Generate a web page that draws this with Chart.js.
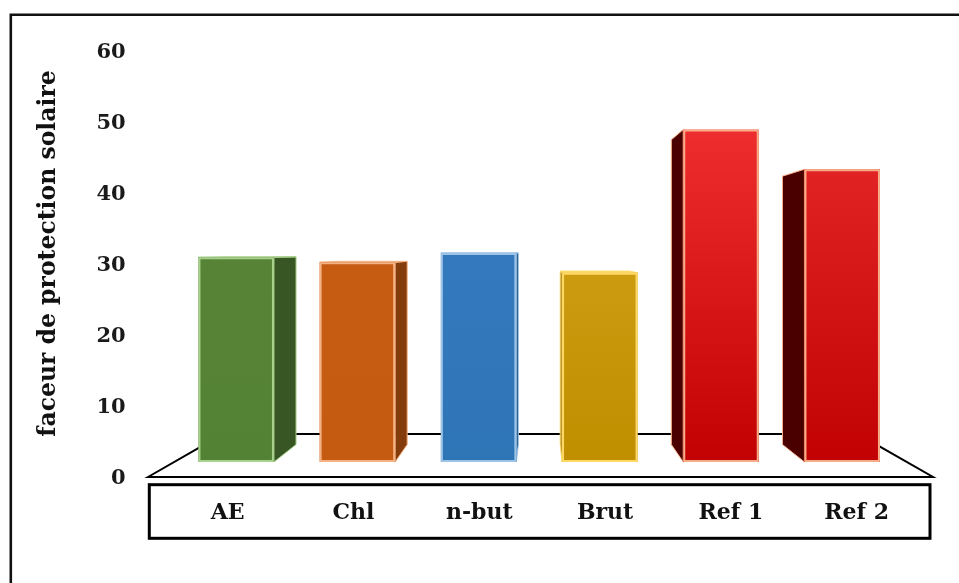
<!DOCTYPE html>
<html>
<head>
<meta charset="utf-8">
<title>Facteur de protection solaire</title>
<script src="https://cdn.jsdelivr.net/npm/chart.js@4.4.1/dist/chart.umd.min.js"></script>
<style>
  html, body { margin: 0; padding: 0; background: #ffffff; }
  canvas { display: block; }
</style>
</head>
<body>
<canvas id="spf" width="959" height="583"></canvas>
<script>
// ---- data ----
const categories = ['AE', 'Chl', 'n-but', 'Brut', 'Ref 1', 'Ref 2'];
const spfValues  = [31.2, 30.5, 31.8, 29.0, 49.2, 43.6];
const yTicks     = [0, 10, 20, 30, 40, 50, 60];
const axisTitle  = 'faceur de protection solaire';

// ---- bar styling (front face gradient, side face, light outline) ----
const faceTop    = ['#578337', '#c65b12', '#3479bd', '#cc9b10', '#ee2e2e', '#e12323'];
const faceBottom = ['#548235', '#c55a11', '#2e75b6', '#bf8f00', '#c20202', '#c20202'];
const sideFill   = ['#375623', '#843c0c', '#1f4e79', '#7f6000', '#4b0000', '#4b0000'];
const edgeLine   = ['#a9d18e', '#f4b183', '#9dc3e6', '#ffd966', '#f7ae88', '#f7ae88'];

// ---- perspective of the 3D stage ----
const VP = { x: 540, y: 252 };     // vanishing point
const FLOOR_DEPTH = 0.191;         // depth of the floor, as a fraction toward VP
const BAR_INSET = 0.0667;          // bars stand slightly behind the floor's front edge
const BAR_DEPTH = 0.083;           // depth of each column

function toward(p, t) {
  return { x: p.x + (VP.x - p.x) * t, y: p.y + (VP.y - p.y) * t };
}

function poly(ctx, pts, fill, stroke, lw) {
  ctx.beginPath();
  ctx.moveTo(pts[0].x, pts[0].y);
  for (let k = 1; k < pts.length; k++) ctx.lineTo(pts[k].x, pts[k].y);
  ctx.closePath();
  if (fill) { ctx.fillStyle = fill; ctx.fill(); }
  if (stroke) { ctx.strokeStyle = stroke; ctx.lineWidth = lw; ctx.stroke(); }
}

const stage3d = {
  id: 'stage3d',
  beforeDraw(chart) {
    const { ctx, chartArea: a, scales: { y } } = chart;
    const frontY = y.getPixelForValue(0) - 1.5;
    ctx.save();
    // page frame
    ctx.strokeStyle = '#111111';
    ctx.lineWidth = 2.6;
    ctx.beginPath();
    ctx.moveTo(10.8, chart.height + 5);
    ctx.lineTo(10.8, 14.7);
    ctx.lineTo(chart.width + 5, 14.7);
    ctx.stroke();

    // floor
    const fl = { x: a.left - 27.6, y: frontY };
    const fr = { x: a.right + 30.2, y: frontY };
    const bl = toward(fl, FLOOR_DEPTH);
    const br = toward(fr, FLOOR_DEPTH);
    ctx.lineJoin = 'miter';
    ctx.miterLimit = 4;
    poly(ctx, [fl, bl, br, fr], null, '#000000', 2);

    // category table box
    ctx.lineWidth = 3;
    ctx.strokeStyle = '#000000';
    const bx0 = a.left - 26.3, bx1 = a.right + 27.2;
    ctx.strokeRect(bx0, a.bottom + 6.2, bx1 - bx0, 53.6);
    ctx.restore();
  },
  afterDatasetsDraw(chart) {
    const { ctx, scales: { y } } = chart;
    const frontY = y.getPixelForValue(0) - 1.5;
    const meta = chart.getDatasetMeta(0);
    meta.data.forEach((bar, i) => {
      const L = bar.x - bar.width / 2;
      const R = bar.x + bar.width / 2;
      const T = bar.y;
      const B = toward({ x: bar.x, y: frontY }, BAR_INSET).y;
      const c = [{ x: L, y: T }, { x: R, y: T }, { x: R, y: B }, { x: L, y: B }];
      const d = c.map(p => toward(p, BAR_DEPTH));
      ctx.save();
      ctx.lineJoin = 'round';
      // side face
      if (R < VP.x) {
        poly(ctx, [c[1], d[1], d[2], c[2]], sideFill[i], edgeLine[i], 1);
      } else if (L > VP.x) {
        poly(ctx, [c[0], d[0], d[3], c[3]], sideFill[i], edgeLine[i], 1);
      }
      // top face (visible when below the horizon)
      if (T > VP.y) {
        poly(ctx, [c[0], c[1], d[1], d[0]], edgeLine[i], edgeLine[i], 1);
      }
      // front face
      const g = ctx.createLinearGradient(0, T, 0, B);
      g.addColorStop(0, faceTop[i]);
      g.addColorStop(1, faceBottom[i]);
      ctx.fillStyle = g;
      ctx.fillRect(L, T, R - L, B - T);
      ctx.strokeStyle = edgeLine[i];
      ctx.lineWidth = 2;
      ctx.strokeRect(L + 1, T + 1, R - L - 2, B - T - 2);
      ctx.restore();
    });
  }
};

const serif = "'DejaVu Serif', 'Liberation Serif', serif";

new Chart(document.getElementById('spf'), {
  type: 'bar',
  data: {
    labels: categories,
    datasets: [{
      label: axisTitle,
      data: spfValues,
      backgroundColor: 'rgba(0,0,0,0)',
      borderWidth: 0,
      categoryPercentage: 1,
      barPercentage: 0.623,
      xAxisID: 'x',
      yAxisID: 'y'
    }]
  },
  options: {
    responsive: false,
    animation: false,
    devicePixelRatio: 1,
    layout: { padding: { left: 35, right: 56.2, top: 53, bottom: 44.5 } },
    plugins: { legend: { display: false }, tooltip: { enabled: false } },
    scales: {
      x: {
        type: 'category',
        display: false
      },
      xt: {
        type: 'linear',
        position: 'bottom',
        offset: false,
        min: -0.414,
        max: 5.367,
        grid: { display: false, drawTicks: false, offset: false },
        border: { display: false },
        afterBuildTicks(scale) {
          scale.ticks = categories.map((_, i) => ({ value: i }));
        },
        afterFit(scale) { scale.height = 60; },
        ticks: {
          autoSkip: false,
          maxRotation: 0,
          padding: 22,
          color: '#111111',
          font: { family: serif, size: 22, weight: 'bold' },
          callback: (v) => categories[v]
        }
      },
      y: {
        type: 'linear',
        position: 'left',
        min: 0,
        max: 60,
        // tick marks are not drawn; their length only sets the label gap
        grid: { display: false, drawTicks: true, tickLength: 45 },
        border: { display: false },
        afterBuildTicks(scale) {
          scale.ticks = yTicks.map(v => ({ value: v }));
        },
        afterFit(scale) { scale.width = 140.6; },
        ticks: {
          padding: 5,
          color: '#1a1a1a',
          font: { family: serif, size: 21, weight: 'bold' }
        },
        title: {
          display: true,
          text: '   ' + axisTitle,
          padding: 0,
          color: '#111111',
          font: { family: serif, size: 23.5, weight: 'bold', lineHeight: 1.2 }
        }
      }
    }
  },
  plugins: [stage3d]
});
</script>
</body>
</html>
